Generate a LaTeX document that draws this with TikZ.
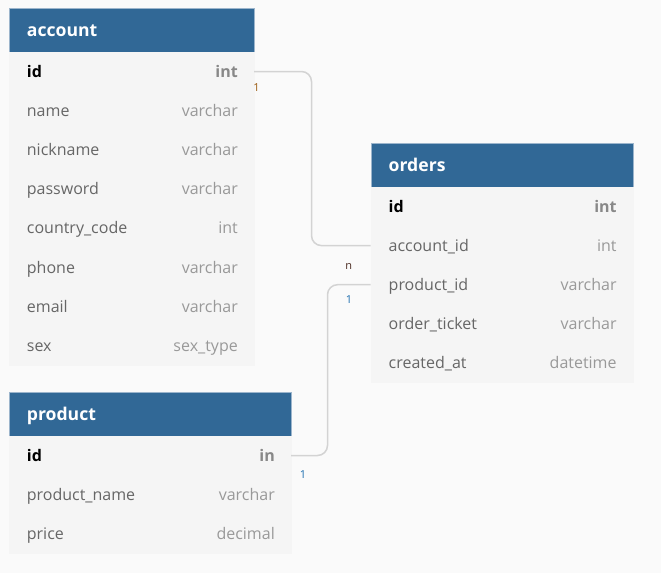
\documentclass[tikz,border=0pt]{standalone}
\usepackage{fontspec}
\setmainfont{Open Sans}
\usetikzlibrary{calc}
\definecolor{bgc}{HTML}{FAFAFA}
\definecolor{hdrc}{HTML}{316896}
\definecolor{hdrl}{HTML}{9CB5CC}
\definecolor{bodyc}{HTML}{F5F5F5}
\definecolor{namec}{HTML}{666666}
\definecolor{typec}{HTML}{999999}
\definecolor{pktc}{HTML}{888888}
\definecolor{connc}{HTML}{D3D3D3}
\definecolor{lblo}{HTML}{9A5A10}
\definecolor{lbln}{HTML}{4A2A20}
\definecolor{lblb}{HTML}{1F6FB0}

\newcommand\pkname[1]{\textbf{\textcolor{black}{#1}}}
\newcommand\pktype[1]{\textbf{\textcolor{pktc}{#1}}}

\tikzset{
  hdr/.style={fill=hdrc, draw=hdrl, line width=0.6pt, anchor=north west, inner sep=0pt, minimum height=43.5pt},
  htitle/.style={text=white, inner sep=0pt, font=\fontsize{17.6}{20}\selectfont\bfseries},
  rowbox/.style={fill=bodyc, draw=bodyc, line width=0.3pt, anchor=north west, inner sep=0pt, minimum height=39.1pt},
  fname/.style={text=namec, inner sep=0pt, font=\fontsize{16}{19}\selectfont},
  conn/.style={draw=connc, line width=1.5pt, rounded corners=10pt},
  lbl/.style={inner sep=0pt, font=\fontsize{11}{13}\selectfont},
}

% #1 prefix, #2 x, #3 y, #4 width, #5 title, #6 fields
\newcommand\erdtab[6]{%
  \node[hdr, minimum width=#4pt] (#1-h) at (#2,#3) {};
  \node[htitle, anchor=base west] (#1-title) at ([xshift=18pt,yshift=-6pt]#1-h.west) {#5};
  \foreach \fn/\ft [count=\i] in {#6} {%
    \node[rowbox, minimum width=#4pt] (#1-\i) at (#2,{#3+43.5+(\i-1)*39.1}) {};
    \node[fname, anchor=base west] (#1-\i-n) at ([xshift=18pt,yshift=-6pt]#1-\i.west) {\fn};
    \node[fname, anchor=base east, text=typec] (#1-\i-t) at ([xshift=-16pt,yshift=-6pt]#1-\i.east) {\ft};
  }%
}

\begin{document}
\begin{tikzpicture}[x=1pt, y=-1pt]
\fill[bgc] (0,0) rectangle (661,573);
\useasboundingbox (0,0) rectangle (661,573);

\erdtab{acc}{8.7}{8.3}{245}{account}{%
  {\pkname{id}}/{\pktype{int}},
  name/varchar,
  nickname/varchar,
  password/varchar,
  country\_code/int,
  phone/varchar,
  email/varchar,
  sex/sex\_type}

\erdtab{ord}{370.5}{143.3}{262}{orders}{%
  {\pkname{id}}/{\pktype{int}},
  account\_id/int,
  product\_id/varchar,
  order\_ticket/varchar,
  created\_at/datetime}

\erdtab{prod}{8.7}{392.3}{282}{product}{%
  {\pkname{id}}/{\pktype{in}},
  product\_name/varchar,
  price/decimal}

\coordinate (j1) at (311.5,0);
\coordinate (j2) at (327.5,0);

\draw[conn] (acc-1.east) -- (acc-1.east -| j1) -- (ord-2.west -| j1) -- (ord-2.west);
\draw[conn] (prod-1.east) -- (prod-1.east -| j2) -- (ord-3.west -| j2) -- (ord-3.west);

\node[lbl, text=lblo] (l1) at (256.5,88) {1};
\node[lbl, text=lbln] (l2) at (348.7,266.5) {n};
\node[lbl, text=lblb] (l3) at (349,300) {1};
\node[lbl, text=lblb] (l4) at (303,475) {1};
\end{tikzpicture}
\end{document}
